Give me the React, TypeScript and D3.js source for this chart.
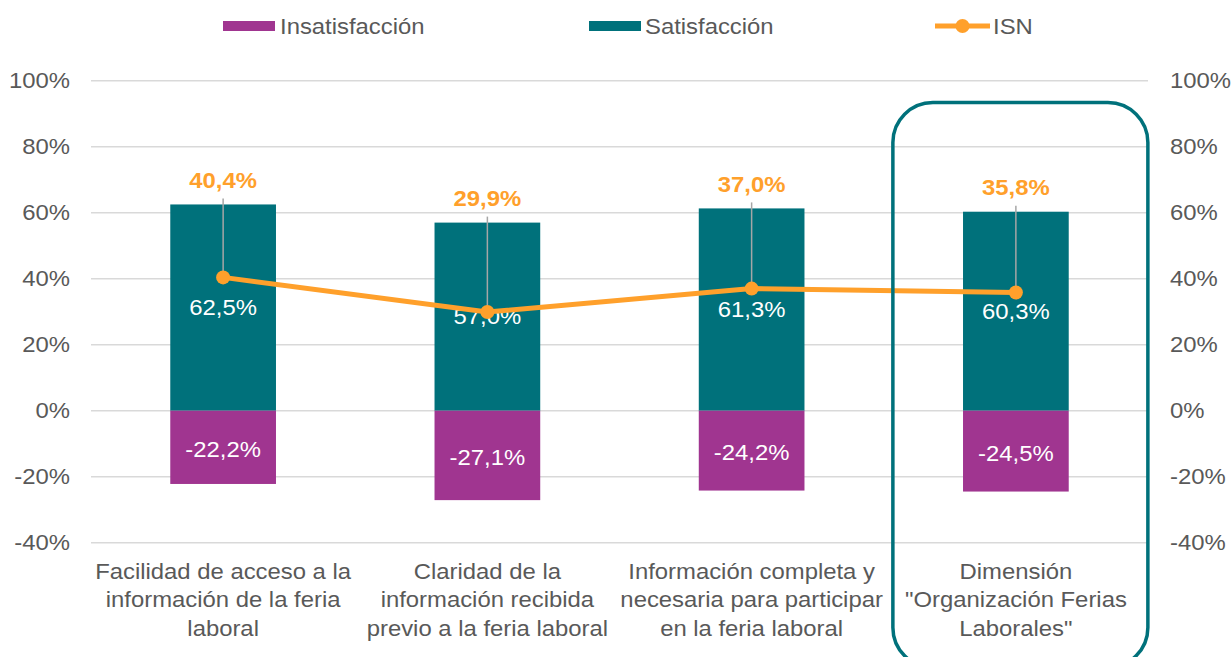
import React from "react";
import * as d3 from "d3";

const categories: string[][] = [
  ["Facilidad de acceso a la", "información de la feria", "laboral"],
  ["Claridad de la", "información recibida", "previo a la feria laboral"],
  ["Información completa y", "necesaria para participar", "en la feria laboral"],
  ["Dimensión", "\"Organización Ferias", "Laborales\""],
];
const satisfaccion = [62.5, 57.0, 61.3, 60.3];
const insatisfaccion = [-22.2, -27.1, -24.2, -24.5];
const isn = [40.4, 29.9, 37.0, 35.8];
const yTicks = [-40, -20, 0, 20, 40, 60, 80, 100];

const W = 1232;
const H = 657;
const FONT = "'Liberation Sans', Arial, sans-serif";
const TEXT = "#595959";
const TEAL = "#00717B";
const PURPLE = "#A03590";
const ORANGE = "#FFA02B";
const SX = 1.085;

const fmt = (v: number) => v.toFixed(1).replace(".", ",") + "%";

function T(props: {
  x: number;
  y: number;
  anchor?: "start" | "middle" | "end";
  size?: number;
  fill?: string;
  bold?: boolean;
  children: React.ReactNode;
}) {
  const { x, y, anchor = "start", size = 22, fill = TEXT, bold = false } = props;
  return (
    <text
      transform={`translate(${x},${y}) scale(${SX},1)`}
      dy="0.35em"
      textAnchor={anchor}
      fontSize={size}
      fontWeight={bold ? "bold" : "normal"}
      fill={fill}
    >
      {props.children}
    </text>
  );
}

export default function App() {
  const x = d3
    .scaleBand<number>()
    .domain(d3.range(categories.length))
    .range([91, 1148])
    .paddingInner(0.6)
    .paddingOuter(0.3);
  const y = d3.scaleLinear().domain([-40, 100]).range([542.7, 80.7]);
  const cx = (i: number) => (x(i) as number) + x.bandwidth() / 2;
  const line = d3
    .line<number>()
    .x((_, i) => cx(i))
    .y((d) => y(d));

  return (
    <svg
      width={W}
      height={H}
      style={{ position: "absolute", left: 0, top: 0, fontFamily: FONT }}
    >
      {/* gridlines */}
      {yTicks.map((t) => (
        <line
          key={"g" + t}
          x1={91}
          x2={1148}
          y1={y(t)}
          y2={y(t)}
          stroke="#D9D9D9"
          strokeWidth={1.5}
        />
      ))}
      {/* axis labels */}
      {yTicks.map((t) => (
        <T key={"l" + t} x={70} y={y(t)} anchor="end">
          {t + "%"}
        </T>
      ))}
      {yTicks.map((t) => (
        <T key={"r" + t} x={1170} y={y(t)} anchor="start">
          {t + "%"}
        </T>
      ))}
      {/* bars */}
      {satisfaccion.map((v, i) => (
        <rect
          key={"s" + i}
          x={x(i)}
          width={x.bandwidth()}
          y={y(v)}
          height={y(0) - y(v)}
          fill={TEAL}
        />
      ))}
      {insatisfaccion.map((v, i) => (
        <rect
          key={"i" + i}
          x={x(i)}
          width={x.bandwidth()}
          y={y(0)}
          height={y(v) - y(0)}
          fill={PURPLE}
        />
      ))}
      {/* bar labels */}
      {satisfaccion.map((v, i) => (
        <T key={"sl" + i} x={cx(i)} y={(y(v) + y(0)) / 2} anchor="middle" fill="#FFFFFF">
          {fmt(v)}
        </T>
      ))}
      {insatisfaccion.map((v, i) => (
        <T key={"il" + i} x={cx(i)} y={(y(v) + y(0)) / 2 + 2} anchor="middle" fill="#FFFFFF">
          {fmt(v)}
        </T>
      ))}
      {/* leader lines */}
      {isn.map((v, i) => (
        <line
          key={"ld" + i}
          x1={cx(i)}
          x2={cx(i)}
          y1={y(satisfaccion[i]) - 6}
          y2={y(v)}
          stroke="#A6A6A6"
          strokeWidth={1.5}
        />
      ))}
      {/* ISN line */}
      <path d={line(isn) || ""} fill="none" stroke={ORANGE} strokeWidth={5} />
      {isn.map((v, i) => (
        <circle key={"c" + i} cx={cx(i)} cy={y(v)} r={7} fill={ORANGE} />
      ))}
      {isn.map((v, i) => (
        <T key={"nl" + i} x={cx(i)} y={y(satisfaccion[i]) - 24} anchor="middle" fill={ORANGE} bold>
          {fmt(v)}
        </T>
      ))}
      {/* category labels */}
      {categories.map((lines, i) =>
        lines.map((ln, j) => (
          <T key={"cat" + i + "-" + j} x={cx(i)} y={571 + j * 28.5} anchor="middle">
            {ln}
          </T>
        ))
      )}
      {/* highlight box */}
      <rect
        x={cx(3) - 123}
        y={102.5}
        width={255}
        height={565}
        rx={40}
        ry={40}
        fill="none"
        stroke={TEAL}
        strokeWidth={3.5}
      />
      {/* legend */}
      <rect x={223} y={21} width={52} height={10} fill={PURPLE} />
      <T x={280} y={26}>Insatisfacción</T>
      <rect x={589} y={21} width={52} height={10} fill={TEAL} />
      <T x={645} y={26}>Satisfacción</T>
      <line x1={935} x2={990} y1={26} y2={26} stroke={ORANGE} strokeWidth={5} />
      <circle cx={962.5} cy={26} r={7} fill={ORANGE} />
      <T x={993} y={26}>ISN</T>
    </svg>
  );
}
